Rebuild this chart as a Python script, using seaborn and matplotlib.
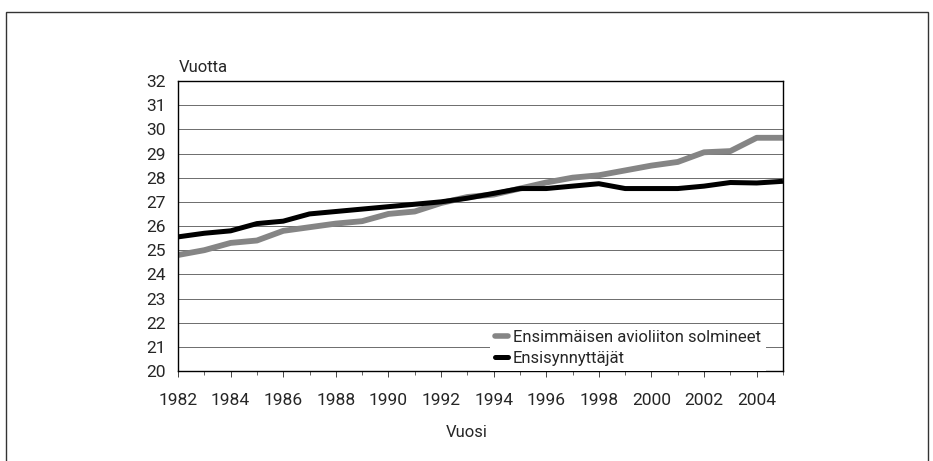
import matplotlib
matplotlib.use("Agg")
import matplotlib.pyplot as plt
import seaborn as sns
import pandas as pd
from matplotlib.patches import Rectangle
from matplotlib.lines import Line2D
from matplotlib.ticker import MultipleLocator

# data
vuodet = list(range(1982, 2006))
avioliitto = [24.8, 25.0, 25.3, 25.4, 25.8, 25.95, 26.1, 26.2, 26.5, 26.6, 26.95, 27.2,
              27.3, 27.55, 27.8, 28.0, 28.1, 28.3, 28.5, 28.65, 29.05, 29.1, 29.65, 29.65]
ensisynnyttajat = [25.55, 25.7, 25.8, 26.1, 26.2, 26.5, 26.6, 26.7, 26.8, 26.9, 27.0, 27.15,
                   27.35, 27.55, 27.55, 27.65, 27.75, 27.55, 27.55, 27.55, 27.65, 27.8, 27.78, 27.85]
sarjat = ["Ensimmäisen avioliiton solmineet", "Ensisynnyttäjät"]

df = pd.DataFrame({
    "Vuosi": vuodet * 2,
    "Vuotta": avioliitto + ensisynnyttajat,
    "sarja": [sarjat[0]] * len(vuodet) + [sarjat[1]] * len(vuodet),
})

sns.set_style("white")
plt.rcParams['font.family'] = ['Roboto', 'DejaVu Sans']

fig = plt.figure(figsize=(9.33, 4.61), dpi=100)
ax = fig.add_axes([0.1908, 0.1952, 0.6484, 0.6291])

sns.lineplot(data=df, x="Vuosi", y="Vuotta", hue="sarja", hue_order=sarjat,
             palette=["#858585", "#000000"], linewidth=4, ax=ax, legend=False)
for line, lw in zip(ax.lines, [4.2, 3.6]):
    line.set_linewidth(lw)
    line.set_solid_capstyle("butt")

ax.set_xlim(1982, 2005)
ax.set_ylim(20, 32)
ax.set_yticks(range(20, 33))
ax.set_xticks(range(1982, 2005, 2))
ax.xaxis.set_minor_locator(MultipleLocator(1))
ax.grid(axis="y", color="#555555", linewidth=0.6)
ax.set_axisbelow(True)
for s in ax.spines.values():
    s.set_color("black")
    s.set_linewidth(1.0)

ax.tick_params(axis="y", length=0, pad=9, labelsize=12.5)
ax.tick_params(axis="x", which="major", length=4, width=0.6, pad=12, labelsize=12.5, direction="out", bottom=True)
ax.tick_params(axis="x", which="minor", length=3, width=0.5, direction="out", bottom=True)
ax.set_xlabel("")
ax.set_ylabel("")

fig.text(179 / 933, 1 - 67 / 461, "Vuotta", fontsize=12, ha="left", va="center")
fig.text(467 / 933, 1 - 432 / 461, "Vuosi", fontsize=12, ha="center", va="center")

handles = [Line2D([], [], color="#858585", lw=4), Line2D([], [], color="black", lw=3.6)]
leg = ax.legend(handles, sarjat, loc="lower left", bbox_to_anchor=(0.515, 0.0),
                fontsize=12, handlelength=0.8, handletextpad=0.3, labelspacing=0.35,
                frameon=True, fancybox=False, borderpad=0.3, borderaxespad=0)
leg.get_frame().set_facecolor("white")
leg.get_frame().set_edgecolor("none")
leg.get_frame().set_alpha(1)

# outer frame of the original figure box
fig.patches.append(Rectangle((6 / 933, -0.05), 922 / 933, 1 - 12 / 461 + 0.05,
                             transform=fig.transFigure, fill=False, edgecolor="#333333", linewidth=1.0))

fig.savefig("out.png", dpi=100)
